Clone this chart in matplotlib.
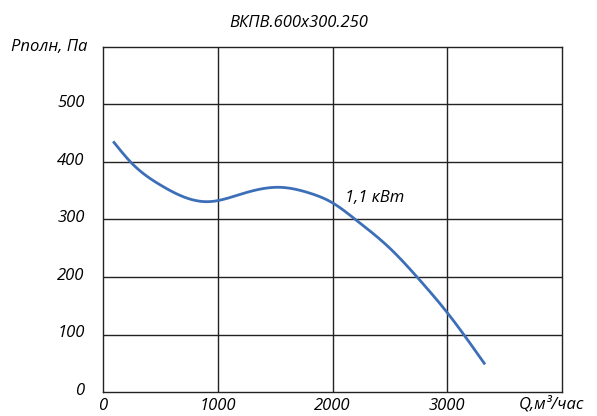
import numpy as np
import matplotlib.pyplot as plt

q = [96, 250, 500, 750, 920, 1200, 1540, 1800, 2000, 2200, 2500, 2750, 3000, 3322]
p = [434, 398, 360, 336, 331, 344, 356, 346, 329, 300, 250, 197, 138, 50]
xticks = [0, 1000, 2000, 3000]
yticks = [0, 100, 200, 300, 400, 500]

plt.rcParams['font.family'] = ['Open Sans', 'DejaVu Sans']
plt.rcParams['font.style'] = 'italic'

fig = plt.figure(figsize=(5.97, 4.16), dpi=100)
ax = fig.add_axes([103/597, 1-392/416, (562-103)/597, (392-47)/416])


def natural_spline(x, y, xs):
    # natural cubic spline through the read points
    x = np.asarray(x, float)
    y = np.asarray(y, float)
    n = len(x)
    h = np.diff(x)
    A = np.zeros((n, n))
    b = np.zeros(n)
    A[0, 0] = A[-1, -1] = 1
    for i in range(1, n - 1):
        A[i, i-1] = h[i-1]
        A[i, i] = 2 * (h[i-1] + h[i])
        A[i, i+1] = h[i]
        b[i] = 3 * ((y[i+1] - y[i]) / h[i] - (y[i] - y[i-1]) / h[i-1])
    c = np.linalg.solve(A, b)
    k = np.clip(np.searchsorted(x, xs) - 1, 0, n - 2)
    dx = xs - x[k]
    bb = (y[k+1] - y[k]) / h[k] - h[k] * (2 * c[k] + c[k+1]) / 3
    d = (c[k+1] - c[k]) / (3 * h[k])
    return y[k] + bb * dx + c[k] * dx**2 + d * dx**3


xs = np.linspace(q[0], q[-1], 400)
ax.plot(xs, natural_spline(q, p, xs), color='#3d6fb8', lw=2)

ax.set_xlim(0, 4000)
ax.set_ylim(0, 600)
ax.set_xticks([1000, 2000, 3000])
ax.set_yticks([100, 200, 300, 400, 500])
ax.grid(True, color='#222222', lw=1)
ax.tick_params(length=0, labelbottom=False, labelleft=False)
for s in ax.spines.values():
    s.set_color('#222222')
    s.set_linewidth(1)

fs = 12
for v in xticks:
    ax.text(v, -24, str(v), ha='center', va='center', fontsize=fs)
for v in yticks:
    ax.text(-160, v + 2, str(v), ha='right', va='center', fontsize=fs)
ax.text(-140, 600, 'Pполн, Па', ha='right', va='center', fontsize=fs)
ax.text(3620, -22, 'Q,м³/час', ha='left', va='center', fontsize=fs)
ax.text(2110, 338, '1,1 кВт', ha='left', va='center', fontsize=fs)
fig.text(0.5, 1 - 23/416, 'ВКПВ.600x300.250', ha='center', va='center', fontsize=12)

fig.savefig('out.png', dpi=100)
